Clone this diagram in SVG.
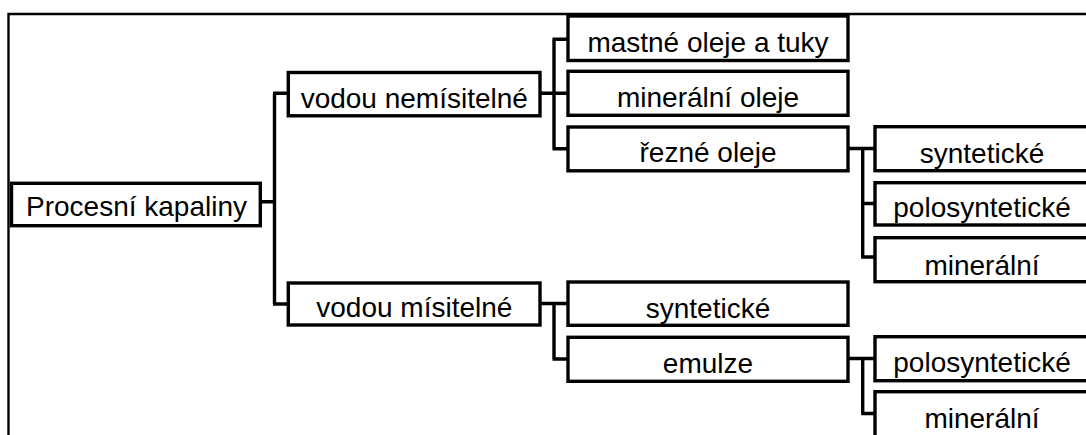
<svg xmlns="http://www.w3.org/2000/svg" width="1086" height="435" viewBox="0 0 1086 435">
  <style>
    .box { fill: #fff; stroke: #000; stroke-width: 3.4; }
    .lbl { font-family: "Liberation Sans", Arial, sans-serif; font-size: 28px; fill: #000; text-anchor: middle; }
    .wire { fill: none; stroke: #000; stroke-width: 3.4; stroke-linejoin: miter; stroke-linecap: butt; }
    .frame { fill: none; stroke: #000; stroke-width: 2.4; }
  </style>
  <rect width="1086" height="435" fill="#fff"/>

  <!-- outer frame: top and left rule -->
  <path class="frame" d="M8.5 435 V14 H1086"/>

  <!-- tree connectors -->
  <g id="connectors">
    <path class="wire" d="M260 201.7 H274.5 M274.5 93.3 V304 M273 93.3 H289 M273 304 H289"/>
    <path class="wire" d="M540 93.3 H568 M554 39.2 V148.7 M552.5 39.2 H568 M552.5 148.7 H568"/>
    <path class="wire" d="M540 303.5 H568 M554 303.5 V359 M552.5 359 H568"/>
    <path class="wire" d="M848 148.5 H875 M862.7 148.5 V257 M861.2 203.5 H875 M861.2 257 H875"/>
    <path class="wire" d="M848 358.5 H875 M862.7 358.5 V413.5 M861.2 413.5 H875"/>
  </g>

  <!-- level 0 -->
  <g id="procesni-kapaliny">
    <rect class="box" x="11.5" y="183.3" width="248.8" height="42.4"/>
    <text class="lbl" x="136.5" y="215.7">Procesní kapaliny</text>
  </g>

  <!-- level 1 -->
  <g id="vodou-nemisitelne">
    <rect class="box" x="288.3" y="72.5" width="251.7" height="43.3"/>
    <text class="lbl" x="414.3" y="108.3">vodou nemísitelné</text>
  </g>
  <g id="vodou-misitelne">
    <rect class="box" x="288.3" y="283" width="251.7" height="42"/>
    <text class="lbl" x="414.3" y="317.3">vodou mísitelné</text>
  </g>

  <!-- level 2 -->
  <g id="mastne-oleje">
    <rect class="box" x="568" y="16" width="280" height="44.5"/>
    <text class="lbl" x="708" y="51.8">mastné oleje a tuky</text>
  </g>
  <g id="mineralni-oleje">
    <rect class="box" x="568" y="71.3" width="280" height="44"/>
    <text class="lbl" x="708" y="107.3">minerální oleje</text>
  </g>
  <g id="rezne-oleje">
    <rect class="box" x="568" y="127" width="280" height="43.8"/>
    <text class="lbl" x="708" y="162.3">řezné oleje</text>
  </g>
  <g id="synteticke-2">
    <rect class="box" x="568" y="282" width="280" height="43.3"/>
    <text class="lbl" x="708" y="318.3">syntetické</text>
  </g>
  <g id="emulze">
    <rect class="box" x="568" y="337.3" width="280" height="44"/>
    <text class="lbl" x="708" y="372.7">emulze</text>
  </g>

  <!-- level 3 -->
  <g id="rezne-synteticke">
    <rect class="box" x="875" y="126.7" width="215" height="44"/>
    <text class="lbl" x="982" y="163.3">syntetické</text>
  </g>
  <g id="rezne-polosynteticke">
    <rect class="box" x="875" y="182.7" width="215" height="42.3"/>
    <text class="lbl" x="982" y="216.7">polosyntetické</text>
  </g>
  <g id="rezne-mineralni">
    <rect class="box" x="875" y="237.7" width="215" height="44"/>
    <text class="lbl" x="982" y="275">minerální</text>
  </g>
  <g id="emulze-polosynteticke">
    <rect class="box" x="875" y="336.7" width="215" height="44"/>
    <text class="lbl" x="982" y="371.7">polosyntetické</text>
  </g>
  <g id="emulze-mineralni">
    <rect class="box" x="875" y="391.7" width="215" height="48"/>
    <text class="lbl" x="982" y="428.3">minerální</text>
  </g>
</svg>
